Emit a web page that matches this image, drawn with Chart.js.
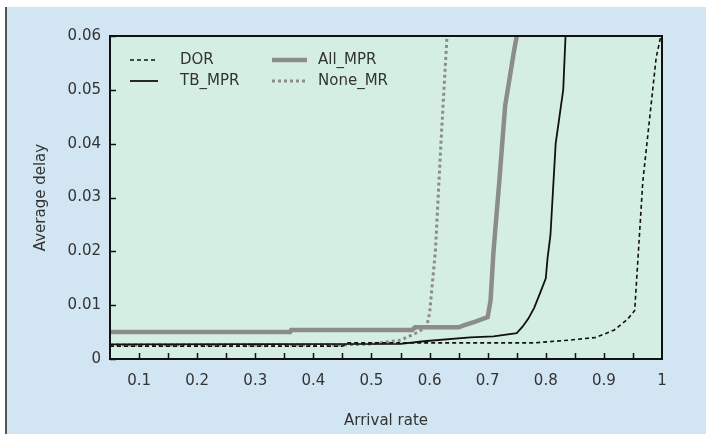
<!DOCTYPE html>
<html><head><meta charset="utf-8">
<script src="https://cdn.jsdelivr.net/npm/chart.js@4/dist/chart.umd.min.js"></script>
<style>html,body{margin:0;padding:0;background:#fff}#wrap{width:706px;height:434px;position:relative}</style>
</head><body><div id="wrap"><canvas id="c" width="706" height="434"></canvas></div>
<script>
// Data
const xTickLabels = [0.1,0.2,0.3,0.4,0.5,0.6,0.7,0.8,0.9,1];
const xMinorTicks = [0.1,0.15,0.2,0.25,0.3,0.35,0.4,0.45,0.5,0.55,0.6,0.65,0.7,0.75,0.8,0.85,0.9,0.95];
const yTickLabels = [0,0.01,0.02,0.03,0.04,0.05,0.06];

const dorX = [0.05,0.45,0.46,0.78,0.84,0.886,0.918,0.94,0.953,0.96,0.967,0.979,0.99,0.998];
const dorY = [0.0024,0.0024,0.003,0.003,0.0035,0.004,0.0054,0.0073,0.009,0.021,0.033,0.045,0.056,0.06];

const tbX = [0.05,0.55,0.59,0.67,0.71,0.75,0.76,0.77,0.78,0.79,0.8,0.803,0.808,0.817,0.83,0.834];
const tbY = [0.0027,0.0028,0.0033,0.004,0.0042,0.0048,0.006,0.0075,0.0095,0.0122,0.015,0.0187,0.023,0.04,0.05,0.06];

const allX = [0.05,0.36,0.362,0.57,0.575,0.65,0.66,0.68,0.70,0.705,0.71,0.72,0.73,0.745,0.75];
const allY = [0.005,0.005,0.0054,0.0054,0.0059,0.0059,0.0063,0.007,0.0078,0.0109,0.02,0.033,0.047,0.057,0.06];

const noneX = [0.05,0.45,0.5,0.55,0.58,0.595,0.6,0.61,0.62,0.63];
const noneY = [0.0026,0.0026,0.0028,0.0035,0.005,0.006,0.0085,0.02,0.041,0.06];

const names = ['DOR','TB_MPR','All_MPR','None_MR'];

const pts = (xs, ys) => xs.map((x,i)=>({x, y: ys[i]}));

const FONT = 'DejaVu Sans';
const TXT = '#333';
const FS = 15;

const bgPlugin = {
  id:'bg',
  beforeDraw(chart){
    const {ctx, chartArea:a} = chart;
    ctx.save();
    ctx.fillStyle = '#ffffff'; ctx.fillRect(0,0,706,434);
    ctx.fillStyle = '#d2e5f2'; ctx.fillRect(7,7,699,427);
    ctx.fillStyle = '#555'; ctx.fillRect(5,7,2,427);
    ctx.fillStyle = '#d4efe2'; ctx.fillRect(a.left,a.top,a.right-a.left,a.bottom-a.top);
    ctx.restore();
  },
  afterDraw(chart){
    const {ctx, chartArea:a, scales:{x,y}} = chart;
    ctx.save();
    ctx.strokeStyle = '#111'; ctx.lineWidth = 2;
    ctx.strokeRect(a.left, a.top, a.right-a.left, a.bottom-a.top);
    ctx.lineWidth = 1.5;
    ctx.beginPath();
    xMinorTicks.forEach(v=>{const px=Math.round(x.getPixelForValue(v))+0.5; ctx.moveTo(px,a.bottom); ctx.lineTo(px,a.bottom-6);});
    yTickLabels.forEach(v=>{const py=Math.round(y.getPixelForValue(v))+0.5; ctx.moveTo(a.left,py); ctx.lineTo(a.left+6,py);});
    ctx.stroke();
    // legend
    const cols = [[130,158,180],[272,307,318]];
    const rows = [60,81];
    const order = [[0,2],[1,3]];
    ctx.font = FS + 'px ' + FONT; ctx.fillStyle = TXT; ctx.textBaseline='middle';
    order.forEach((r,ri)=>r.forEach((di,ci)=>{
      const ds = chart.data.datasets[di];
      const [x0,x1,tx] = cols[ci];
      const yy = rows[ri];
      ctx.save();
      ctx.strokeStyle = ds.borderColor; ctx.lineWidth = ds.borderWidth;
      ctx.setLineDash(ds.borderDash||[]);
      ctx.beginPath(); ctx.moveTo(x0,yy); ctx.lineTo(x1,yy); ctx.stroke();
      ctx.restore();
      ctx.fillText(ds.label, tx, yy);
    }));
    ctx.restore();
  }
};

const cv = document.getElementById('c');
const c2 = cv.getContext('2d');
c2.letterSpacing = '1px';

new Chart(cv, {
  type:'line',
  data:{datasets:[
    {label:names[0], data:pts(dorX,dorY), borderColor:'#111', borderWidth:1.6, borderDash:[4,3]},
    {label:names[1], data:pts(tbX,tbY), borderColor:'#111', borderWidth:1.8},
    {label:names[2], data:pts(allX,allY), borderColor:'#8c8c8c', borderWidth:4.5},
    {label:names[3], data:pts(noneX,noneY), borderColor:'#8c8c8c', borderWidth:3, borderDash:[3,3]}
  ]},
  options:{
    responsive:false, animation:false,
    elements:{point:{radius:0}, line:{tension:0}},
    layout:{padding:{left:24,top:36,right:44,bottom:0}},
    plugins:{legend:{display:false}, tooltip:{enabled:false}},
    scales:{
      x:{type:'linear', min:0.05, max:1,
        afterBuildTicks:(s)=>{s.ticks = xTickLabels.map(v=>({value:v}));},
        afterFit:(s)=>{s.height = 75;},
        grid:{display:false, drawTicks:false}, border:{display:false},
        ticks:{padding:13, color:TXT, font:{family:FONT,size:FS}, maxRotation:0, autoSkip:false,
          callback:(v)=>String(+v.toFixed(2))},
        title:{display:true, text:'Arrival rate', color:TXT, font:{family:FONT,size:FS}, padding:{top:10}}
      },
      y:{type:'linear', min:0, max:0.06,
        afterBuildTicks:(s)=>{s.ticks = yTickLabels.map(v=>({value:v}));},
        afterFit:(s)=>{s.width = 86;},
        grid:{display:false, drawTicks:false}, border:{display:false},
        ticks:{padding:9, color:TXT, font:{family:FONT,size:FS},
          callback:(v)=>String(+v.toFixed(2))},
        title:{display:true, text:'Average delay', color:TXT, font:{family:FONT,size:FS}, padding:{top:8,bottom:0}}
      }
    }
  },
  plugins:[bgPlugin]
});
</script></body></html>
